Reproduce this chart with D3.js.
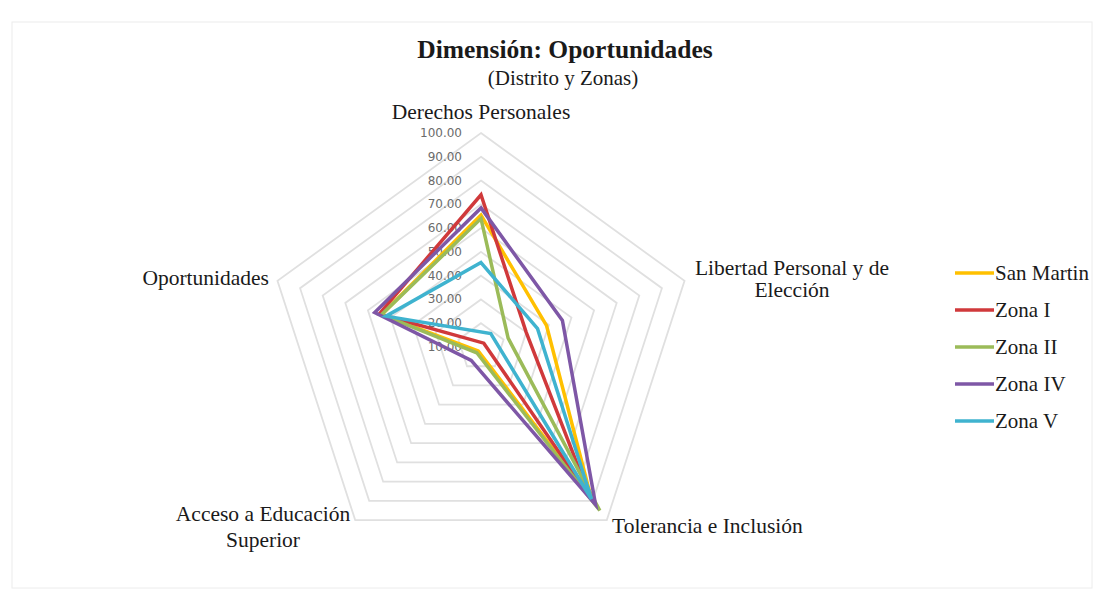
<!DOCTYPE html>
<html lang="es">
<head>
<meta charset="UTF-8">
<title>Dimensión: Oportunidades</title>
<script src="https://cdn.jsdelivr.net/npm/d3@7"></script>
<style>
  body { margin: 0; background: #fff; }
  svg text { font-family: "Liberation Serif", "Times New Roman", serif; fill: #1a1a1a; }
  .tick-lbl { font-family: "DejaVu Sans", "Noto Sans", sans-serif !important; fill: #6b6b6b !important; }
</style>
</head>
<body>
<script>
// categories (clockwise from top)
var categories = ["Derechos Personales", "Libertad Personal y de Elección", "Tolerancia e Inclusión",
                  "Acceso a Educación Superior", "Oportunidades"];
var seriesNames = ["San Martin", "Zona I", "Zona II", "Zona IV", "Zona V"];
var sanMartin = [65.5, 39, 89, 12, 54];
var zonaI     = [74, 30, 88, 8, 55];
var zonaII    = [64, 22, 95, 13, 54];
var zonaIV    = [68.5, 46, 92, 17, 57];
var zonaV     = [45.5, 35, 89, 3, 52];
var tickValues = [10, 20, 30, 40, 50, 60, 70, 80, 90, 100];
var colors = ["#FFC000", "#D0393B", "#9BBB59", "#7E57A6", "#3FB3CF"];

var w = 1104, h = 597;
var cx = 481, cy = 347, R = 214;

var svg = d3.select("body").append("svg")
    .attr("width", w)
    .attr("height", h);

// chart frame
svg.append("rect")
    .attr("x", 12).attr("y", 22)
    .attr("width", 1080).attr("height", 566)
    .attr("fill", "none")
    .attr("stroke", "#ececec")
    .attr("stroke-width", 1);

var rScale = d3.scaleLinear().domain([10, 100]).range([0, R]);
var angle = function(i) { return i * 2 * Math.PI / categories.length; };
var pt = function(v, i) {
    return [cx + rScale(v) * Math.sin(angle(i)), cy - rScale(v) * Math.cos(angle(i))];
};

// grid rings
var grid = svg.append("g");
tickValues.slice(1).forEach(function(t) {
    grid.append("polygon")
        .attr("points", categories.map(function(c, i) { return pt(t, i).join(","); }).join(" "))
        .attr("fill", "none")
        .attr("stroke", "#e0e0e0")
        .attr("stroke-width", 1.8);
});

// tick labels along top axis
svg.selectAll("text.tick-lbl")
    .data(tickValues)
    .enter()
    .append("text")
    .attr("class", "tick-lbl")
    .attr("x", cx - 19)
    .attr("y", function(d) { return cy - rScale(d) + 4; })
    .attr("text-anchor", "end")
    .style("font-size", "12px")
    .text(function(d) { return d3.format(".2f")(d); });

// series
var allSeries = [sanMartin, zonaI, zonaII, zonaIV, zonaV];
var line = d3.line().curve(d3.curveLinearClosed);
svg.selectAll("path.series")
    .data(allSeries)
    .enter()
    .append("path")
    .attr("class", "series")
    .attr("d", function(s) { return line(s.map(function(v, i) { return pt(v, i); })); })
    .attr("fill", "none")
    .attr("stroke", function(d, i) { return colors[i]; })
    .attr("stroke-width", 3.5)
    .attr("stroke-linejoin", "miter");

// category labels
var catLabels = [
    {lines: ["Derechos Personales"], x: 481, y: 119, anchor: "middle"},
    {lines: ["Libertad Personal y de", "Elección"], x: 792, y: 275, anchor: "middle"},
    {lines: ["Tolerancia e Inclusión"], x: 612, y: 533, anchor: "start"},
    {lines: ["Acceso a Educación", "Superior"], x: 263, y: 521, anchor: "middle"},
    {lines: ["Oportunidades"], x: 269, y: 285, anchor: "end"}
];
catLabels.forEach(function(c, k) {
    var t = svg.append("text")
        .attr("x", c.x).attr("y", c.y)
        .attr("text-anchor", c.anchor)
        .style("font-size", "21.5px");
    c.lines.forEach(function(l, j) {
        t.append("tspan").attr("x", c.x).attr("dy", j === 0 ? 0 : (k === 3 ? 26 : 22)).text(l);
    });
});

// title
svg.append("text")
    .attr("x", 565).attr("y", 58)
    .attr("text-anchor", "middle")
    .style("font-size", "25.5px")
    .style("font-weight", "bold")
    .text("Dimensión: Oportunidades");
svg.append("text")
    .attr("x", 563).attr("y", 85)
    .attr("text-anchor", "middle")
    .style("font-size", "21px")
    .text("(Distrito y Zonas)");

// legend
var legend = svg.selectAll("g.legend")
    .data(seriesNames)
    .enter()
    .append("g")
    .attr("class", "legend")
    .attr("transform", function(d, i) { return "translate(955," + (273 + i * 37) + ")"; });
legend.append("line")
    .attr("x1", 0).attr("x2", 39)
    .attr("y1", 0).attr("y2", 0)
    .attr("stroke", function(d, i) { return colors[i]; })
    .attr("stroke-width", 3.5);
legend.append("text")
    .attr("x", 40).attr("y", 7)
    .style("font-size", "21px")
    .text(function(d) { return d; });
</script>
</body>
</html>
